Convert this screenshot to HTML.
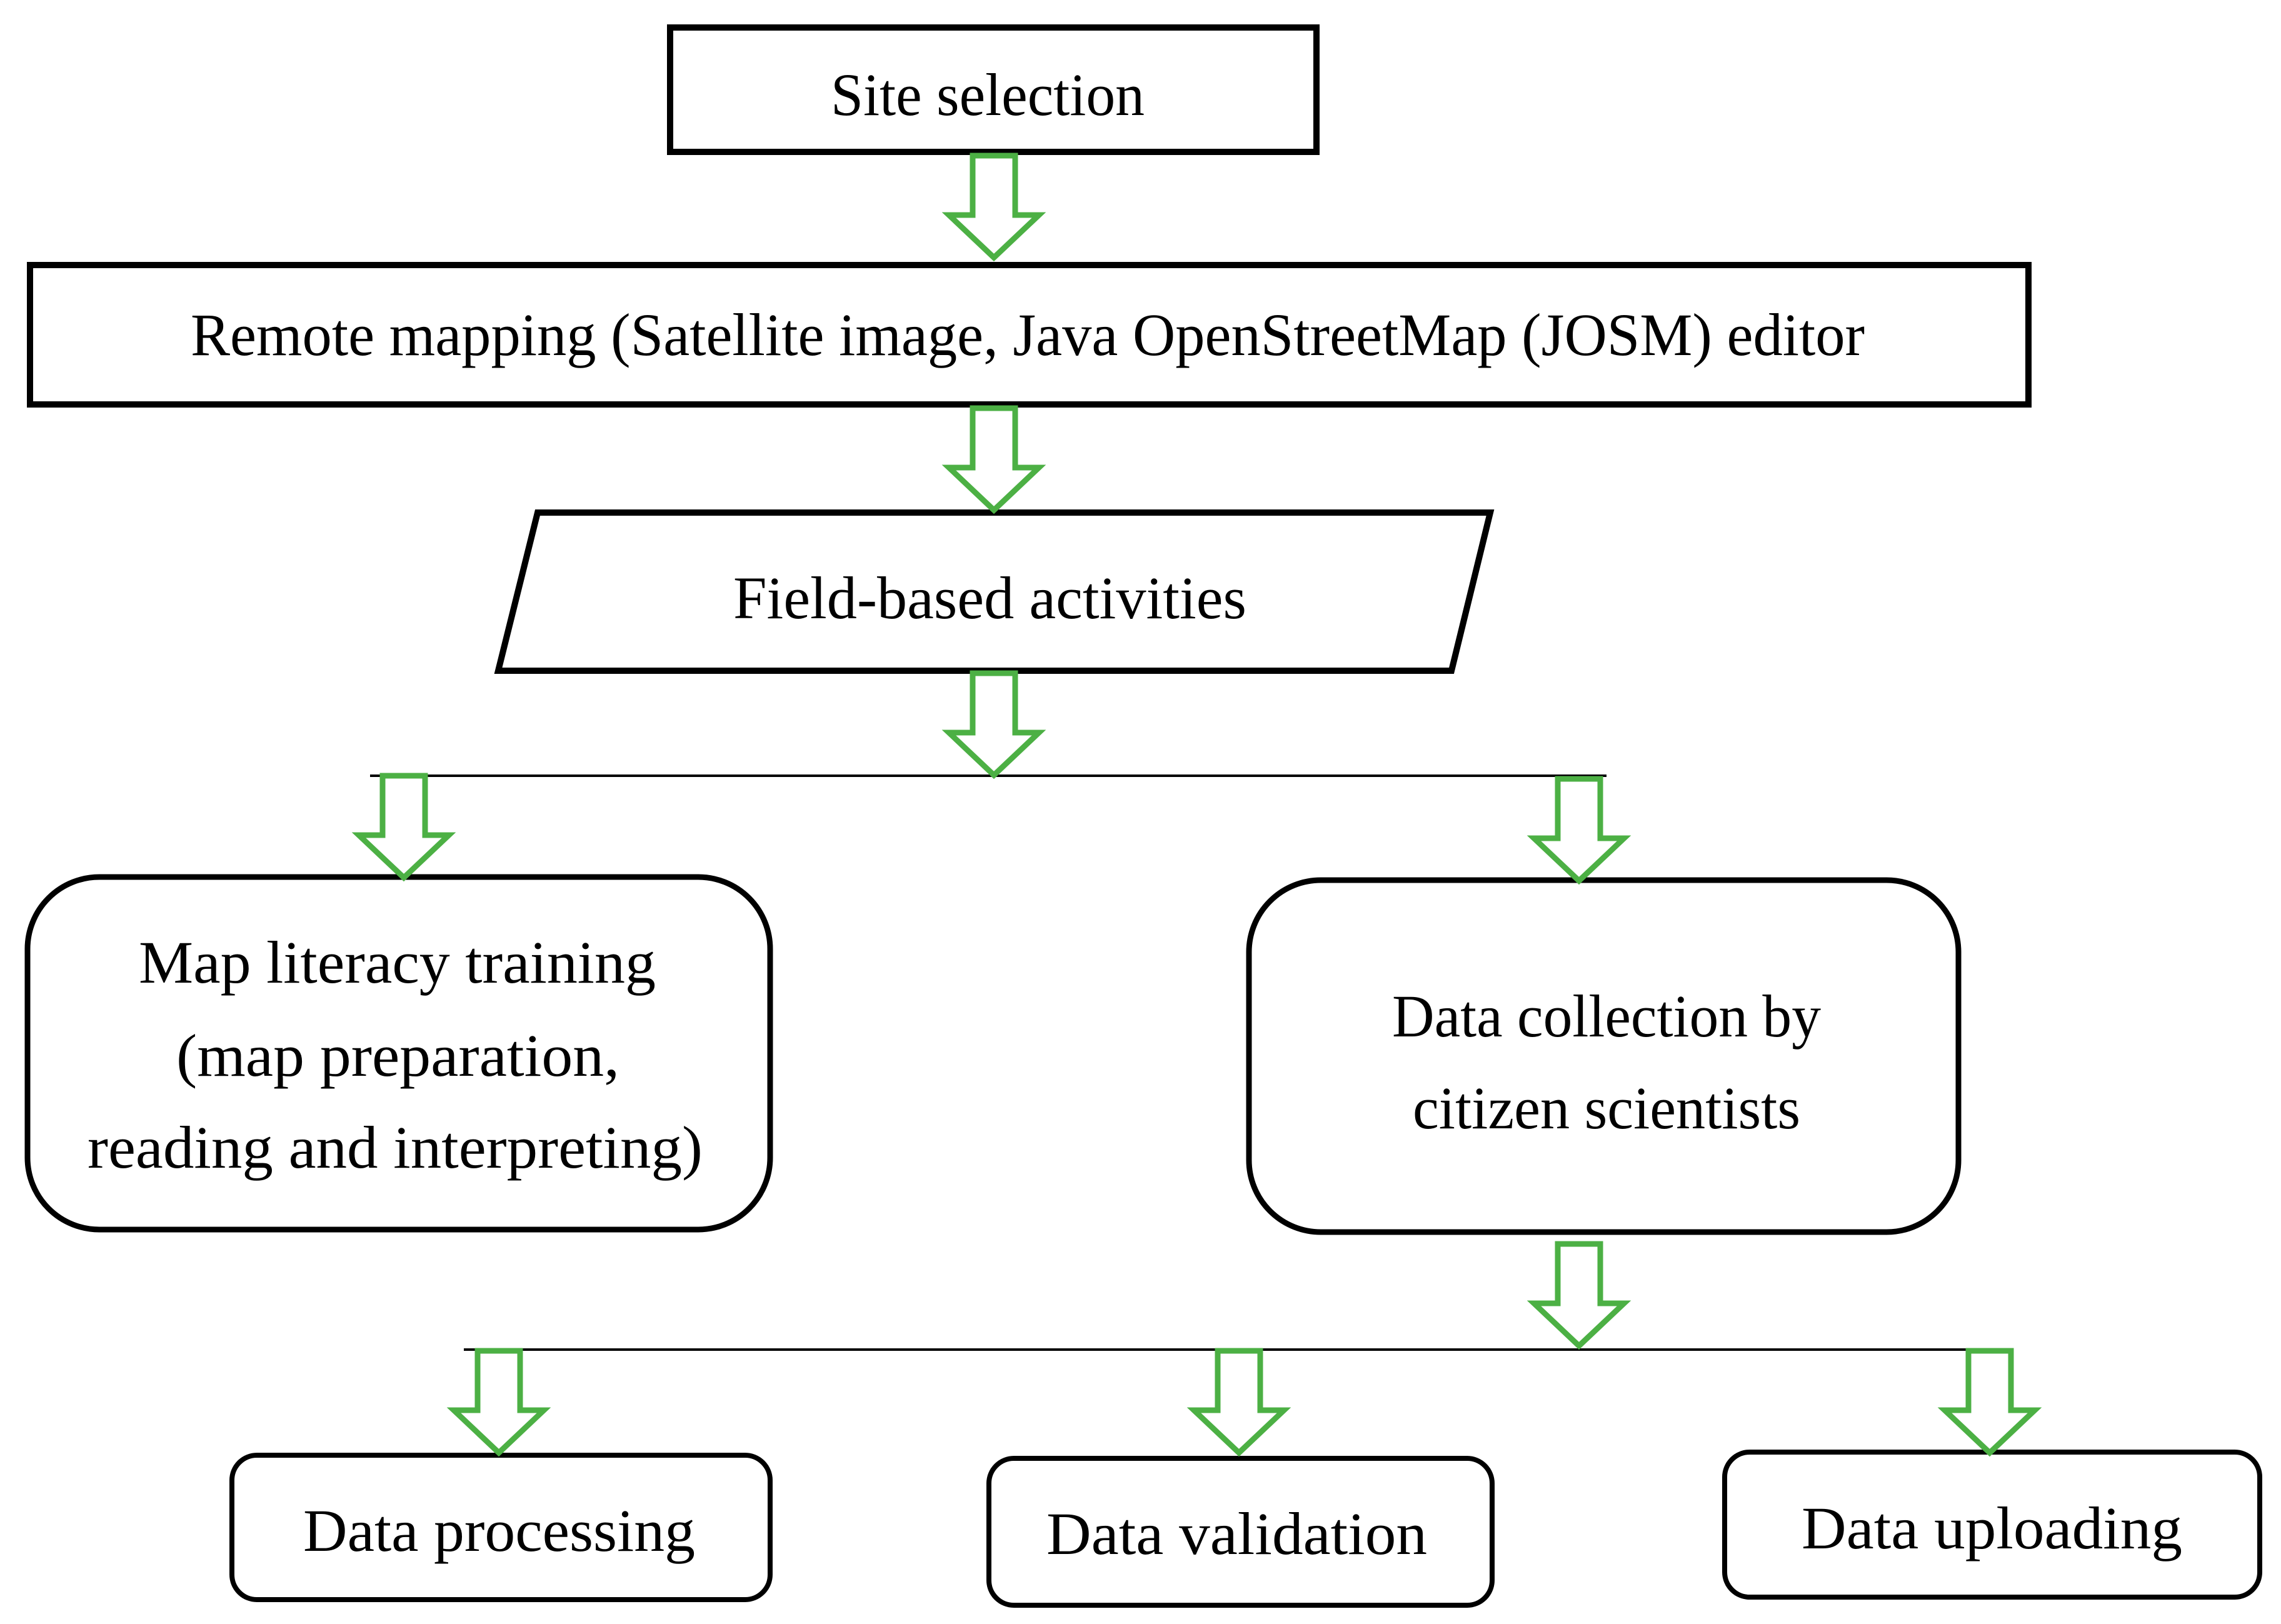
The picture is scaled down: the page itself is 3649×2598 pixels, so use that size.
<!DOCTYPE html>
<html><head><meta charset="utf-8"><style>
html,body{margin:0;padding:0;background:#fff;}
svg{display:block;}
text{font-family:"Liberation Serif",serif;font-size:96px;fill:#000;}
</style></head><body>
<svg width="3649" height="2598" viewBox="0 0 3649 2598" xmlns="http://www.w3.org/2000/svg">
<defs>
<g id="arr">
<polygon points="-34,0 34,0 34,95 72,95 0,163 -72,95 -34,95" fill="#fff" stroke="#4cb044" stroke-width="9" stroke-linejoin="miter"/>
</g>
</defs>
<g fill="#fff" stroke="#000">
<rect x="1072" y="44" width="1034" height="199" stroke-width="10"/>
<rect x="48" y="424" width="3197" height="223" stroke-width="10"/>
<polygon points="860,820 2384,820 2322,1073 797,1073" stroke-width="10"/>
<rect x="44" y="1403" width="1188" height="564" rx="115" stroke-width="9"/>
<rect x="1998" y="1408" width="1135" height="563" rx="115" stroke-width="9"/>
<rect x="371" y="2328" width="861" height="231" rx="40" stroke-width="8"/>
<rect x="1582" y="2333" width="805" height="235" rx="40" stroke-width="8"/>
<rect x="2759" y="2323" width="856" height="232" rx="40" stroke-width="8"/>
</g>
<line x1="592" y1="1241" x2="2570" y2="1241" stroke="#000" stroke-width="4"/>
<line x1="742" y1="2159" x2="3190" y2="2159" stroke="#000" stroke-width="4"/>
<use href="#arr" x="1590" y="249"/>
<use href="#arr" x="1590" y="653"/>
<use href="#arr" x="1590" y="1077"/>
<use href="#arr" x="646" y="1241"/>
<use href="#arr" x="2526" y="1246"/>
<use href="#arr" x="2526" y="1990"/>
<use href="#arr" x="798" y="2161"/>
<use href="#arr" x="1982" y="2161"/>
<use href="#arr" x="3183" y="2161"/>
<text x="1329" y="184" textLength="502" lengthAdjust="spacingAndGlyphs">Site selection</text>
<text x="305" y="568" textLength="2678" lengthAdjust="spacingAndGlyphs">Remote mapping (Satellite image, Java OpenStreetMap (JOSM) editor</text>
<text x="1173" y="989" textLength="821" lengthAdjust="spacingAndGlyphs">Field-based activities</text>
<text x="222" y="1572" textLength="827" lengthAdjust="spacingAndGlyphs">Map literacy training</text>
<text x="282" y="1721" textLength="709" lengthAdjust="spacingAndGlyphs">(map preparation,</text>
<text x="140" y="1868" textLength="984" lengthAdjust="spacingAndGlyphs">reading and interpreting)</text>
<text x="2227" y="1658" textLength="686" lengthAdjust="spacingAndGlyphs">Data collection by</text>
<text x="2260" y="1805" textLength="620" lengthAdjust="spacingAndGlyphs">citizen scientists</text>
<text x="485" y="2481" textLength="627" lengthAdjust="spacingAndGlyphs">Data processing</text>
<text x="1674" y="2486" textLength="609" lengthAdjust="spacingAndGlyphs">Data validation</text>
<text x="2882" y="2477" textLength="609" lengthAdjust="spacingAndGlyphs">Data uploading</text>
</svg>
</body></html>
